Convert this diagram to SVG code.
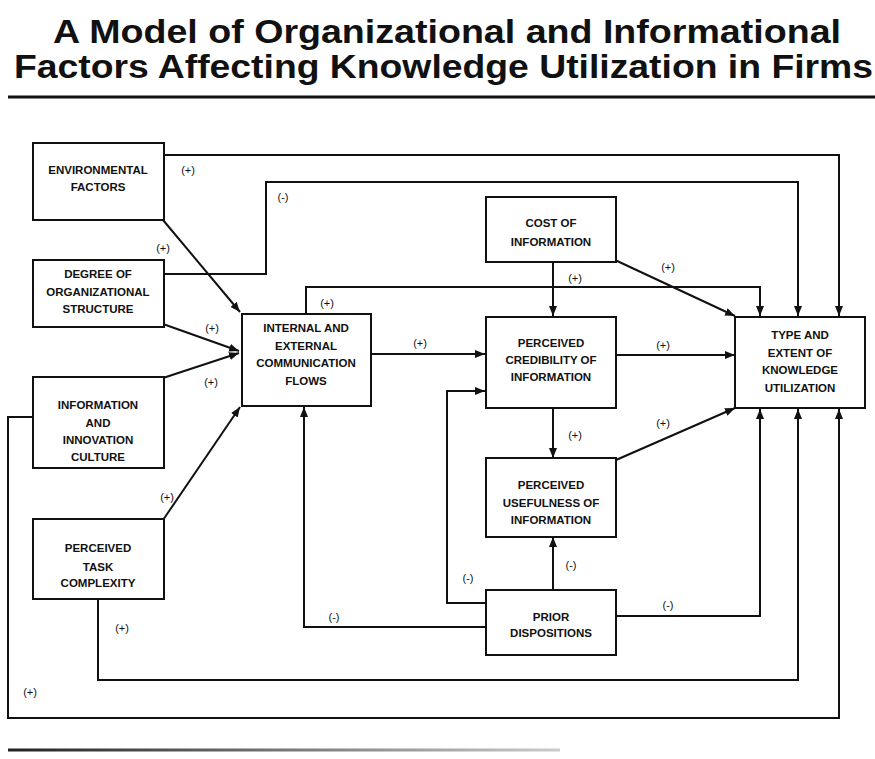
<svg xmlns="http://www.w3.org/2000/svg" width="875" height="759" viewBox="0 0 875 759">
<defs>
<marker id="arr" viewBox="0 0 10 8" refX="10" refY="4" markerWidth="10" markerHeight="8" markerUnits="userSpaceOnUse" orient="auto">
<path d="M0,0 L10,4 L0,8 z" fill="#111"/>
</marker>
<linearGradient id="fade" gradientUnits="userSpaceOnUse" x1="8" y1="0" x2="560" y2="0">
<stop offset="0" stop-color="#222"/>
<stop offset="0.5" stop-color="#777"/>
<stop offset="1" stop-color="#ccc"/>
</linearGradient>
</defs>
<style>
.title{font-family:"Liberation Sans",Arial,sans-serif;font-weight:bold;font-size:34px;fill:#111}
.box rect{fill:#fff;stroke:#111;stroke-width:2}
.box text{font-family:"Liberation Sans",Arial,sans-serif;font-weight:bold;font-size:11.5px;fill:#111;text-anchor:middle}
.conn path{fill:none;stroke:#111;stroke-width:2;marker-end:url(#arr)}
.lbl{font-family:"Liberation Sans",Arial,sans-serif;font-size:11px;fill:#111;text-anchor:middle}
</style>
<rect width="875" height="759" fill="#fff"/>
<text class="title" x="53" y="43" textLength="788" lengthAdjust="spacingAndGlyphs">A Model of Organizational and Informational</text>
<text class="title" x="14" y="78" textLength="859" lengthAdjust="spacingAndGlyphs">Factors Affecting Knowledge Utilization in Firms</text>
<line x1="8" y1="97" x2="875" y2="97" stroke="#111" stroke-width="3"/>

<g id="connectors" class="conn">
<path d="M164,155 H839 V316"/>
<path d="M164,274 H266 V182 H798 V316"/>
<path d="M306,313 V287 H760 V316"/>
<path d="M163,220 L240,312"/>
<path d="M163,324 L239,351"/>
<path d="M163,378 L239,353"/>
<path d="M163,520 L240,407"/>
<path d="M553,262 V316"/>
<path d="M615,260 L735,316"/>
<path d="M371,354 H485"/>
<path d="M616,355 H735"/>
<path d="M553,408 V458"/>
<path d="M616,460 L735,408"/>
<path d="M553,590 V537"/>
<path d="M485,603 H447 V391 H485"/>
<path d="M485,627 H304 V407"/>
<path d="M616,616 H760 V409"/>
<path d="M98,599 V680 H798 V409"/>
<path d="M33,417 H8 V718 H839 V409"/>
</g>

<g id="labels">
<text class="lbl" x="188" y="174">(+)</text>
<text class="lbl" x="283" y="201">(-)</text>
<text class="lbl" x="163" y="252">(+)</text>
<text class="lbl" x="212" y="332">(+)</text>
<text class="lbl" x="211" y="386">(+)</text>
<text class="lbl" x="167" y="501">(+)</text>
<text class="lbl" x="122" y="632">(+)</text>
<text class="lbl" x="30" y="696">(+)</text>
<text class="lbl" x="327" y="307">(+)</text>
<text class="lbl" x="420" y="347">(+)</text>
<text class="lbl" x="575" y="282">(+)</text>
<text class="lbl" x="668" y="271">(+)</text>
<text class="lbl" x="663" y="349">(+)</text>
<text class="lbl" x="575" y="439">(+)</text>
<text class="lbl" x="663" y="427">(+)</text>
<text class="lbl" x="571" y="569">(-)</text>
<text class="lbl" x="468" y="582">(-)</text>
<text class="lbl" x="334" y="621">(-)</text>
<text class="lbl" x="668" y="609">(-)</text>
</g>

<g id="env" class="box"><rect x="33" y="143" width="131" height="77"/>
<text x="98" y="174">ENVIRONMENTAL</text><text x="98" y="191">FACTORS</text></g>
<g id="degree" class="box"><rect x="33" y="260" width="131" height="67"/>
<text x="98" y="278">DEGREE OF</text><text x="98" y="296">ORGANIZATIONAL</text><text x="98" y="313">STRUCTURE</text></g>
<g id="culture" class="box"><rect x="33" y="377" width="131" height="91"/>
<text x="98" y="409">INFORMATION</text><text x="98" y="427">AND</text><text x="98" y="444">INNOVATION</text><text x="98" y="461">CULTURE</text></g>
<g id="task" class="box"><rect x="33" y="519" width="131" height="80"/>
<text x="98" y="552">PERCEIVED</text><text x="98" y="571">TASK</text><text x="98" y="587">COMPLEXITY</text></g>
<g id="comm" class="box"><rect x="242" y="314" width="129" height="92"/>
<text x="306" y="332">INTERNAL AND</text><text x="306" y="350">EXTERNAL</text><text x="306" y="367">COMMUNICATION</text><text x="306" y="385">FLOWS</text></g>
<g id="cost" class="box"><rect x="486" y="197" width="130" height="65"/>
<text x="551" y="227">COST OF</text><text x="551" y="246">INFORMATION</text></g>
<g id="cred" class="box"><rect x="486" y="317" width="130" height="91"/>
<text x="551" y="347">PERCEIVED</text><text x="551" y="364">CREDIBILITY OF</text><text x="551" y="381">INFORMATION</text></g>
<g id="useful" class="box"><rect x="486" y="458" width="130" height="79"/>
<text x="551" y="489">PERCEIVED</text><text x="551" y="507">USEFULNESS OF</text><text x="551" y="524">INFORMATION</text></g>
<g id="prior" class="box"><rect x="486" y="590" width="130" height="65"/>
<text x="551" y="621">PRIOR</text><text x="551" y="637">DISPOSITIONS</text></g>
<g id="type" class="box"><rect x="735" y="317" width="130" height="91"/>
<text x="800" y="339">TYPE AND</text><text x="800" y="357">EXTENT OF</text><text x="800" y="374">KNOWLEDGE</text><text x="800" y="392">UTILIZATION</text></g>

<line x1="8" y1="750" x2="560" y2="750" stroke="url(#fade)" stroke-width="3"/>
</svg>
